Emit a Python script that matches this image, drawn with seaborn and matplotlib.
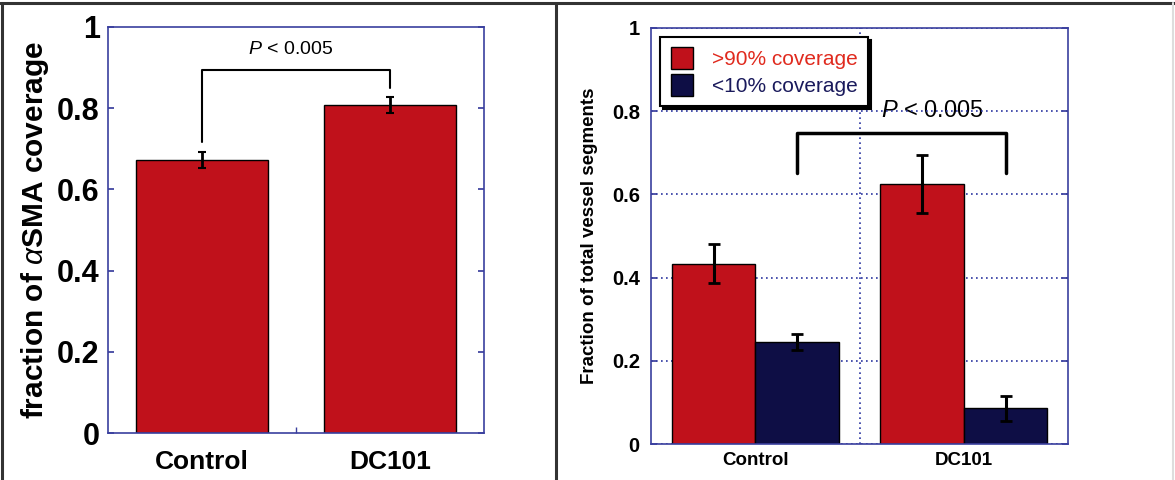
import matplotlib
matplotlib.use("Agg")
import matplotlib.pyplot as plt
from matplotlib.lines import Line2D
import pandas as pd
import seaborn as sns

# ---- data ----
categories = ["Control", "DC101"]
asma_mean = [0.672, 0.808]
asma_err = [0.020, 0.020]

series = [">90% coverage", "<10% coverage"]
high_cov = [0.433, 0.625]
high_err = [0.047, 0.070]
low_cov = [0.245, 0.086]
low_err = [0.020, 0.030]

yticks = [0, 0.2, 0.4, 0.6, 0.8, 1]
ytick_labels = ["0", "0.2", "0.4", "0.6", "0.8", "1"]
p_label = r"$P$ < 0.005"

RED = "#c0111b"
NAVY = "#0e0e45"
SPINE = "#3a3f9e"

sns.set_theme(style="white")
plt.rcParams["font.family"] = ["Liberation Sans", "DejaVu Sans"]
plt.rcParams["mathtext.fontset"] = "custom"
plt.rcParams["mathtext.rm"] = "Liberation Sans"
plt.rcParams["mathtext.it"] = "Liberation Sans:italic"
plt.rcParams["mathtext.bf"] = "Liberation Sans:bold"
for key in ["text.color", "axes.labelcolor", "xtick.labelcolor", "ytick.labelcolor"]:
    plt.rcParams[key] = "black"

fig = plt.figure(figsize=(11.75, 4.8), dpi=100)
ax1 = fig.add_axes([0.0919, 0.0979, 0.320, 0.846])
ax2 = fig.add_axes([0.554, 0.075, 0.355, 0.867])

# ---- left panel: alpha-SMA coverage ----
sns.barplot(x=categories, y=asma_mean, color=RED, saturation=1, width=0.7,
            edgecolor="black", linewidth=1, errorbar=None, ax=ax1)
for bar, err in zip(ax1.patches, asma_err):
    cx = bar.get_x() + bar.get_width() / 2
    ax1.errorbar(cx, bar.get_height(), yerr=err, fmt="none", ecolor="black",
                 elinewidth=2, capsize=3, capthick=1.5, zorder=5)

ax1.set_xlim(-0.5, 1.5)
ax1.set_ylim(0, 1)
ax1.set_yticks(yticks)
ax1.set_yticklabels(ytick_labels, fontsize=22, fontweight="bold")
ax1.set_xticks([0, 1])
ax1.set_xticklabels(categories, fontsize=19, fontweight="bold")
ax1.set_xticks([0.5], minor=True)
ax1.tick_params(axis="y", which="major", direction="in", length=4, color=SPINE,
                left=True, right=True, pad=6)
ax1.tick_params(axis="x", which="major", length=0, pad=12)
ax1.tick_params(axis="x", which="minor", direction="in", length=4, color=SPINE,
                bottom=True)
ax1.set_xlabel("")
ax1.set_ylabel(r"fraction of $\alpha$SMA coverage", fontsize=21.5,
               fontweight="bold", labelpad=4)
for s in ax1.spines.values():
    s.set_color(SPINE)
    s.set_linewidth(1.2)

# significance bracket, left panel
c0 = ax1.patches[0].get_x() + ax1.patches[0].get_width() / 2
c1 = ax1.patches[1].get_x() + ax1.patches[1].get_width() / 2
ax1.plot([c0, c0, c1, c1], [0.717, 0.894, 0.894, 0.85], color="black", lw=1.5)
ax1.text((c0 + c1) / 2 - 0.03, 0.945, p_label, ha="center", va="center",
         fontsize=14)

# ---- right panel: vessel segment coverage ----
df = pd.DataFrame({
    "group": categories * 2,
    "series": [series[0]] * 2 + [series[1]] * 2,
    "value": high_cov + low_cov,
})
sns.barplot(data=df, x="group", y="value", hue="series", hue_order=series,
            palette=[RED, NAVY], saturation=1, width=0.8, edgecolor="black",
            linewidth=1, errorbar=None, ax=ax2)
errs = [high_err, low_err]
for cont, err in zip(ax2.containers, errs):
    for bar, e in zip(cont, err):
        cx = bar.get_x() + bar.get_width() / 2
        ax2.errorbar(cx, bar.get_height(), yerr=e, fmt="none", ecolor="black",
                     elinewidth=2.2, capsize=4, capthick=2, zorder=5)

ax2.set_xlim(-0.5, 1.5)
ax2.set_ylim(0, 1)
ax2.set_yticks(yticks)
ax2.set_yticklabels(ytick_labels, fontsize=14.5, fontweight="bold")
ax2.set_xticks([0, 1])
ax2.set_xticklabels(categories, fontsize=13.5, fontweight="bold")
ax2.set_xticks([0.5], minor=True)
ax2.tick_params(axis="y", which="major", direction="in", length=4, color=SPINE,
                left=True, right=True, pad=8)
ax2.tick_params(axis="x", which="major", length=0, pad=6)
ax2.tick_params(axis="x", which="minor", length=0)
ax2.set_axisbelow(True)
ax2.grid(axis="y", which="major", linestyle=(0, (1, 2)), color="#2a35a0", lw=1.2)
ax2.grid(axis="x", which="minor", linestyle=(0, (1, 2)), color="#2a35a0", lw=1.2)
ax2.set_xlabel("")
ax2.set_ylabel("Fraction of total vessel segments", fontsize=13.5,
               fontweight="bold", labelpad=10)
for s in ax2.spines.values():
    s.set_color(SPINE)
    s.set_linewidth(1.2)

# significance bracket between the <10% bars
low_bars = list(ax2.containers[1])
b0 = low_bars[0].get_x() + low_bars[0].get_width() / 2
b1 = low_bars[1].get_x() + low_bars[1].get_width() / 2
ax2.plot([b0, b0, b1, b1], [0.651, 0.748, 0.748, 0.651], color="black", lw=2.5,
         zorder=4)
ax2.text(0.85, 0.80, p_label, ha="center", va="center",
         fontsize=17, zorder=0.3)

handles, labels = ax2.get_legend_handles_labels()
leg = ax2.legend(handles, labels, loc="upper left",
                 bbox_to_anchor=(0.022, 0.978), fontsize=15, frameon=True,
                 fancybox=False, edgecolor="black", framealpha=1,
                 shadow={"color": "black", "alpha": 1.0},
                 handlelength=1.1, handleheight=1.2, handletextpad=0.9,
                 borderpad=0.5, labelspacing=0.25, borderaxespad=0)
leg.get_frame().set_linewidth(1.5)
for txt, col in zip(leg.get_texts(), ["#e02a1e", "#1a1a5c"]):
    txt.set_color(col)

# ---- panel frames ----
frame = dict(color="#333333", lw=2.2, transform=fig.transFigure)
fig.add_artist(Line2D([0, 1], [0.994, 0.994], **frame))
fig.add_artist(Line2D([0.002, 0.002], [0, 0.994], **frame))
fig.add_artist(Line2D([0.4735, 0.4735], [0, 0.994], **frame))
fig.add_artist(Line2D([0.998, 0.998], [0, 0.994], color="#dddddd", lw=1.5,
                      transform=fig.transFigure))

fig.savefig("out.png", dpi=100)
